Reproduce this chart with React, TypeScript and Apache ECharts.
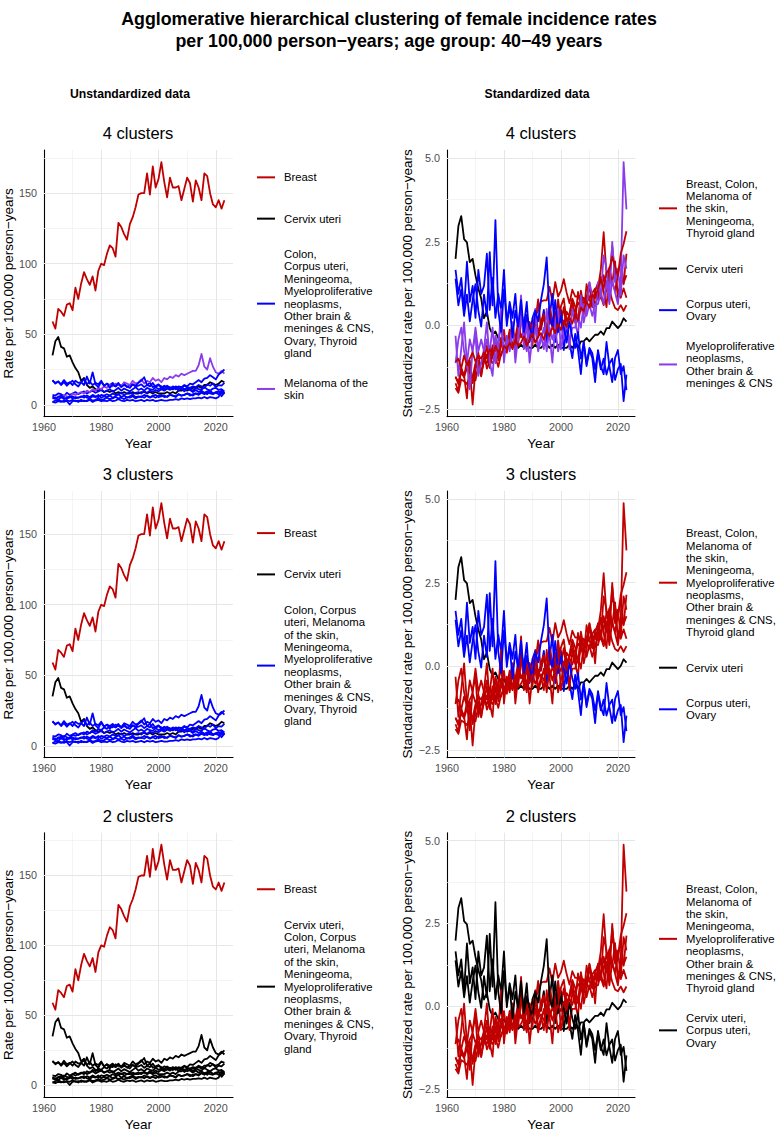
import React, { useEffect, useRef } from 'react';
import * as echarts from 'echarts';

const FONT = '"Liberation Sans", Arial, Helvetica, sans-serif';

// ---- data (rates per 100,000 person-years, women 40-49, years 1963..2023) ----
const FIRST_YEAR = 1963;
const LAST_YEAR = 2023;

const breast = [59, 54, 68, 66, 63, 71, 72, 67, 83, 75, 86, 94, 89, 85, 91, 81, 95, 100, 99, 107, 113, 111, 105, 129, 126, 121, 117, 128, 133, 140, 149, 150, 150, 164, 149, 169, 154, 160, 172, 158, 147, 161, 154, 154, 155, 145, 153, 161, 157, 144, 159, 154, 145, 164, 162, 150, 142, 140, 145, 139, 145];
const cervix = [35, 45, 48, 41, 40, 34, 35, 30, 26, 23, 17, 19, 14, 12, 13, 11, 10, 11, 9, 10, 9, 10, 8, 9, 8, 9, 8, 8, 9, 8, 8, 9, 9, 8, 9, 8, 9, 8, 8, 8, 9, 8, 9, 8, 10, 10, 11, 10, 11, 12, 12, 13, 12, 14, 14, 16, 15, 14, 15, 17, 16];
const colon = [7.0, 6.5, 8.0, 7.5, 6.0, 8.5, 7.0, 8.0, 9.0, 7.5, 8.5, 9.5, 8.0, 9.0, 10.0, 8.5, 9.5, 10.5, 9.0, 10.0, 11.0, 9.5, 10.5, 12.0, 10.0, 11.5, 10.5, 9.5, 11.0, 12.5, 10.5, 11.5, 10.0, 12.0, 11.0, 10.5, 12.5, 11.0, 12.0, 10.5, 11.5, 12.5, 11.0, 13.0, 12.0, 11.5, 13.5, 12.5, 12.0, 13.0, 12.5, 14.0, 13.0, 12.0, 14.5, 13.5, 15.0, 12.5, 14.0, 13.5, 15.5];
const corpus = [17.0, 15.5, 16.5, 14.5, 17.5, 15.0, 16.0, 14.0, 17.0, 15.5, 16.0, 18.0, 14.5, 16.5, 14.0, 15.5, 14.5, 17.0, 13.5, 15.0, 14.0, 15.5, 13.0, 14.5, 13.5, 15.0, 12.5, 14.0, 14.5, 13.0, 13.5, 14.5, 12.5, 14.0, 15.5, 12.5, 13.5, 14.5, 12.0, 13.5, 12.5, 11.5, 13.0, 12.0, 10.5, 12.5, 11.0, 12.0, 11.5, 10.0, 12.0, 11.0, 10.5, 12.5, 11.0, 10.0, 11.5, 12.0, 10.5, 11.0, 9.5];
const melanoma = [5, 4, 6, 5, 7, 6, 5, 8, 7, 8, 9, 8, 10, 9, 11, 10, 12, 11, 13, 12, 14, 13, 15, 14, 13, 16, 15, 14, 17, 15, 16, 18, 15, 17, 16, 19, 17, 18, 16, 19, 18, 20, 19, 21, 20, 22, 21, 22, 23, 24, 24, 28, 36, 27, 25, 33, 27, 23, 22, 24, 22];
const meningeoma = [2.0, 1.5, 2.5, 2.0, 3.0, 2.5, 0.2, 2.5, 3.0, 2.0, 3.5, 2.5, 3.0, 4.0, 3.0, 3.5, 4.5, 3.5, 4.0, 5.0, 4.0, 4.5, 5.5, 4.5, 5.0, 4.0, 5.5, 5.0, 6.0, 4.5, 5.5, 6.0, 5.0, 6.5, 5.5, 6.0, 5.0, 6.5, 7.0, 5.5, 6.0, 7.0, 6.5, 5.5, 7.5, 6.5, 7.0, 8.0, 6.5, 7.5, 8.0, 7.0, 8.5, 7.5, 9.0, 8.0, 7.5, 8.5, 9.5, 8.0, 8.5];
const myeloproliferative = [2.0, 3.0, 3.5, 2.5, 2.0, 3.0, 2.5, 3.5, 2.5, 3.0, 2.5, 3.0, 2.5, 3.5, 2.0, 3.0, 3.5, 2.5, 3.0, 2.5, 3.5, 2.5, 3.0, 4.0, 3.0, 2.5, 3.5, 3.0, 3.5, 2.5, 3.0, 3.5, 2.5, 3.5, 3.0, 3.5, 2.5, 3.0, 3.5, 3.0, 3.0, 3.5, 3.5, 4.0, 3.5, 4.5, 4.0, 4.5, 4.0, 4.5, 4.5, 5.0, 4.5, 5.5, 4.5, 5.5, 5.0, 4.5, 5.5, 10.5, 8.5];
const otherBrain = [6.0, 4.5, 5.5, 6.5, 5.0, 4.0, 5.5, 6.0, 4.5, 5.0, 5.5, 6.5, 5.0, 4.5, 6.0, 5.5, 7.0, 5.0, 6.0, 5.5, 6.5, 5.0, 6.0, 7.5, 5.5, 6.5, 5.0, 6.0, 7.0, 5.5, 6.0, 5.5, 7.0, 6.0, 5.0, 6.5, 7.0, 5.5, 6.0, 6.5, 5.5, 7.0, 6.5, 6.0, 7.5, 6.5, 7.0, 8.0, 7.5, 6.5, 8.0, 7.5, 9.0, 8.5, 7.5, 9.5, 8.0, 8.5, 7.5, 9.0, 8.5];
const ovary = [17.5, 15.0, 16.5, 14.0, 16.0, 13.5, 15.5, 17.0, 14.5, 13.0, 16.0, 14.0, 20.0, 15.0, 23.0, 14.5, 12.5, 16.5, 13.5, 15.0, 12.0, 14.5, 13.0, 15.5, 12.5, 14.0, 13.0, 12.0, 14.5, 13.5, 15.5, 17.0, 19.5, 14.0, 13.0, 15.5, 12.5, 14.0, 13.0, 11.5, 13.5, 12.0, 11.0, 12.5, 10.0, 11.5, 9.5, 11.0, 10.5, 9.0, 10.5, 9.0, 10.0, 8.5, 9.5, 10.0, 8.0, 9.0, 9.5, 6.0, 8.5];
const thyroid = [4.5, 5.0, 3.5, 5.5, 4.0, 5.0, 6.0, 4.5, 5.5, 5.0, 6.0, 5.0, 6.5, 5.5, 7.0, 6.0, 5.5, 7.0, 6.5, 7.5, 6.5, 8.0, 7.0, 7.5, 8.5, 7.0, 8.0, 9.0, 7.5, 8.5, 9.0, 8.0, 9.5, 8.5, 10.0, 9.0, 10.5, 9.5, 11.0, 10.0, 11.5, 10.5, 12.0, 11.0, 13.0, 12.5, 14.0, 13.0, 15.0, 14.5, 16.0, 17.5, 16.0, 18.5, 19.0, 21.0, 19.5, 18.0, 21.5, 23.0, 25.0];

const siteNames = ['Breast', 'Cervix uteri', 'Colon', 'Corpus uteri', 'Melanoma of the skin', 'Meningeoma', 'Myeloproliferative neoplasms', 'Other brain & meninges & CNS', 'Ovary', 'Thyroid gland'];
const siteValues = [breast, cervix, colon, corpus, melanoma, meningeoma, myeloproliferative, otherBrain, ovary, thyroid];

// cluster membership per site (same order as siteNames)
const unstd4 = [0, 1, 2, 2, 3, 2, 2, 2, 2, 2];
const unstd3 = [0, 1, 2, 2, 2, 2, 2, 2, 2, 2];
const unstd2 = [0, 1, 1, 1, 1, 1, 1, 1, 1, 1];
const std4 = [0, 1, 0, 2, 0, 0, 3, 3, 2, 0];
const std3 = [0, 1, 0, 2, 0, 0, 0, 0, 2, 0];
const std2 = [0, 1, 0, 1, 0, 0, 0, 0, 1, 0];

const unstd4Labels = ['Breast', 'Cervix uteri', 'Colon,\nCorpus uteri,\nMeningeoma,\nMyeloproliferative\nneoplasms,\nOther brain &\nmeninges & CNS,\nOvary, Thyroid\ngland', 'Melanoma of the\nskin'];
const unstd3Labels = ['Breast', 'Cervix uteri', 'Colon, Corpus\nuteri, Melanoma\nof the skin,\nMeningeoma,\nMyeloproliferative\nneoplasms,\nOther brain &\nmeninges & CNS,\nOvary, Thyroid\ngland'];
const unstd2Labels = ['Breast', 'Cervix uteri,\nColon, Corpus\nuteri, Melanoma\nof the skin,\nMeningeoma,\nMyeloproliferative\nneoplasms,\nOther brain &\nmeninges & CNS,\nOvary, Thyroid\ngland'];
const std4Labels = ['Breast, Colon,\nMelanoma of\nthe skin,\nMeningeoma,\nThyroid gland', 'Cervix uteri', 'Corpus uteri,\nOvary', 'Myeloproliferative\nneoplasms,\nOther brain &\nmeninges & CNS'];
const std3Labels = ['Breast, Colon,\nMelanoma of\nthe skin,\nMeningeoma,\nMyeloproliferative\nneoplasms,\nOther brain &\nmeninges & CNS,\nThyroid gland', 'Cervix uteri', 'Corpus uteri,\nOvary'];
const std2Labels = ['Breast, Colon,\nMelanoma of\nthe skin,\nMeningeoma,\nMyeloproliferative\nneoplasms,\nOther brain &\nmeninges & CNS,\nThyroid gland', 'Cervix uteri,\nCorpus uteri,\nOvary'];

const xTickLabels = [1960, 1980, 2000, 2020];
const xMajorGrid = [1980, 2000, 2020];
const xMinorGrid = [1970, 1990, 2010];
const rawTickLabels = [0, 50, 100, 150];
const rawMinorGrid = [25, 75, 125, 175];
const stdTickLabels = [-2.5, 0, 2.5, 5];
const stdMinorGrid = [-1.25, 1.25, 3.75];

const TITLE = 'Agglomerative hierarchical clustering of female incidence rates\nper 100,000 person\u2212years; age group: 40\u221249 years';

// ---- styling / layout ----
const RED = '#c00000';
const BLACK = '#000000';
const BLUE = '#0000ff';
const PURPLE = '#8a3ceb';
const C4 = [RED, BLACK, BLUE, PURPLE];

const COL_LEFT = [43, 447];
const COL_WIDTH = [190, 188];
const ROW_TOP = [150, 491, 832.7];
const PLOT_H = 266.6;
const KEY_H = 24.2;
const KEY_GAP = 17.1;
const LINE_H = 12.4;
const LEGEND_FS = 11.3;

const years: number[] = [];
for (let y = FIRST_YEAR; y <= LAST_YEAR; y++) years.push(y);

function standardize(v: number[]) {
  const n = v.length;
  const m = v.reduce((a, b) => a + b, 0) / n;
  const sd = Math.sqrt(v.reduce((a, b) => a + (b - m) * (b - m), 0) / (n - 1));
  return v.map((x) => (x - m) / sd);
}

function expandRange(vals: number[]) {
  const mn = Math.min(...vals);
  const mx = Math.max(...vals);
  const pad = (mx - mn) * 0.05;
  return [mn - pad, mx + pad];
}

const fmtStd = (v: number) => (v < 0 ? '\u2212' + Math.abs(v).toFixed(1) : v.toFixed(1));

function buildOption() {
  const stdValues = siteValues.map(standardize);
  const rawRange = expandRange(siteValues.flat());
  const stdRange = expandRange(stdValues.flat());
  const xRange = expandRange(years);

  const panels = [
    { title: '4 clusters', std: false, assign: unstd4, labels: unstd4Labels, row: 0, col: 0 },
    { title: '4 clusters', std: true, assign: std4, labels: std4Labels, row: 0, col: 1 },
    { title: '3 clusters', std: false, assign: unstd3, labels: unstd3Labels, row: 1, col: 0 },
    { title: '3 clusters', std: true, assign: std3, labels: std3Labels, row: 1, col: 1 },
    { title: '2 clusters', std: false, assign: unstd2, labels: unstd2Labels, row: 2, col: 0 },
    { title: '2 clusters', std: true, assign: std2, labels: std2Labels, row: 2, col: 1 },
  ];

  const grid: any[] = [];
  const xAxis: any[] = [];
  const yAxis: any[] = [];
  const series: any[] = [];
  const graphic: any[] = [];

  panels.forEach((p, i) => {
    const left = COL_LEFT[p.col];
    const width = COL_WIDTH[p.col];
    const top = ROW_TOP[p.row];
    grid.push({ left, top, width, height: PLOT_H, containLabel: false });

    xAxis.push({
      gridIndex: i,
      type: 'value',
      min: xRange[0],
      max: xRange[1],
      name: 'Year',
      nameLocation: 'middle',
      nameGap: 20,
      nameTextStyle: { fontSize: 13.5, color: '#000', fontFamily: FONT },
      axisLine: { show: true, onZero: false, lineStyle: { color: '#000', width: 1.1 } },
      axisTick: { show: false },
      splitLine: { show: false },
      axisLabel: { customValues: xTickLabels, formatter: (v: number) => String(v), fontSize: 10.8, color: '#4d4d4d', margin: 5, fontFamily: FONT },
    });

    const yr = p.std ? stdRange : rawRange;
    yAxis.push({
      gridIndex: i,
      type: 'value',
      min: yr[0],
      max: yr[1],
      name: p.std ? 'Standardized rate per 100,000 person\u2212years' : 'Rate per 100,000 person\u2212years',
      nameLocation: 'middle',
      nameGap: p.std ? 29.5 : 24,
      nameTextStyle: { fontSize: 13.5, color: '#000', fontFamily: FONT },
      axisLine: { show: true, onZero: false, lineStyle: { color: '#000', width: 1.1 } },
      axisTick: { show: false },
      splitLine: { show: false },
      axisLabel: {
        customValues: p.std ? stdTickLabels : rawTickLabels,
        formatter: p.std ? fmtStd : (v: number) => String(v),
        fontSize: 10.8,
        color: '#4d4d4d',
        margin: 7,
        fontFamily: FONT,
      },
    });

    const inY = (v: number) => v > yr[0] && v < yr[1];
    const yMajor = (p.std ? stdTickLabels : rawTickLabels).filter(inY);
    const yMinor = (p.std ? stdMinorGrid : rawMinorGrid).filter(inY);
    const gl: any[] = [];
    yMinor.forEach((v) => gl.push({ yAxis: v, lineStyle: { color: '#efefef', width: 0.7, type: 'solid' } }));
    xMinorGrid.forEach((v) => gl.push({ xAxis: v, lineStyle: { color: '#efefef', width: 0.7, type: 'solid' } }));
    yMajor.forEach((v) => gl.push({ yAxis: v, lineStyle: { color: '#e6e6e6', width: 1, type: 'solid' } }));
    xMajorGrid.forEach((v) => gl.push({ xAxis: v, lineStyle: { color: '#e6e6e6', width: 1, type: 'solid' } }));
    series.push({
      type: 'line',
      name: 'grid' + i,
      xAxisIndex: i,
      yAxisIndex: i,
      data: [],
      silent: true,
      z: 1,
      markLine: { silent: true, z: 1, symbol: ['none', 'none'], label: { show: false }, animation: false, data: gl },
    });

    const vals = p.std ? stdValues : siteValues;
    siteNames.forEach((name, s) => {
      const color = C4[p.assign[s]];
      series.push({
        type: 'line',
        name,
        xAxisIndex: i,
        yAxisIndex: i,
        data: years.map((y, k) => [y, vals[s][k]]),
        showSymbol: false,
        symbol: 'none',
        silent: true,
        z: 3,
        lineStyle: { color, width: 1.8, join: 'round' },
        itemStyle: { color },
      });
    });

    // panel title
    graphic.push({
      type: 'text',
      x: left + width / 2,
      y: top - 17,
      style: { text: p.title, fontSize: 16.5, fill: '#000', fontFamily: FONT, align: 'center', verticalAlign: 'middle' },
    });

    // legend
    const heights = p.labels.map((l) => Math.max(KEY_H, l.split('\n').length * LINE_H));
    const total = heights.reduce((a, b) => a + b, 0) + KEY_GAP * (p.labels.length - 1);
    let yy = top + PLOT_H / 2 - total / 2;
    const kx = left + width + 24;
    p.labels.forEach((lab, k) => {
      const cy = yy + heights[k] / 2;
      yy += heights[k] + KEY_GAP;
      graphic.push({
        type: 'line',
        shape: { x1: kx, y1: cy, x2: kx + 18, y2: cy },
        style: { stroke: C4[k], lineWidth: 2 },
      });
      graphic.push({
        type: 'text',
        x: kx + 27,
        y: cy,
        style: { text: lab, fontSize: LEGEND_FS, lineHeight: LINE_H, fill: '#000', fontFamily: FONT, align: 'left', verticalAlign: 'middle' },
      });
    });
  });

  graphic.push({
    type: 'text',
    x: 130,
    y: 94,
    style: { text: 'Unstandardized data', fontSize: 12.2, fontWeight: 'bold', fill: '#000', fontFamily: FONT, align: 'center', verticalAlign: 'middle' },
  });
  graphic.push({
    type: 'text',
    x: 537,
    y: 94,
    style: { text: 'Standardized data', fontSize: 12.2, fontWeight: 'bold', fill: '#000', fontFamily: FONT, align: 'center', verticalAlign: 'middle' },
  });

  return {
    animation: false,
    backgroundColor: '#ffffff',
    title: {
      text: TITLE,
      left: 'center',
      top: 3,
      textStyle: { fontSize: 17.8, fontWeight: 'bold', color: '#000', lineHeight: 22, fontFamily: FONT },
    },
    grid,
    xAxis,
    yAxis,
    series,
    graphic,
  };
}

export default function App() {
  const ref = useRef<HTMLDivElement>(null);
  useEffect(() => {
    if (!ref.current) return;
    const chart = echarts.init(ref.current, null, { renderer: 'svg' });
    chart.setOption(buildOption() as any);
    return () => chart.dispose();
  }, []);
  return <div ref={ref} style={{ position: 'absolute', left: 0, top: 0, width: 778, height: 1132, background: '#fff' }} />;
}
